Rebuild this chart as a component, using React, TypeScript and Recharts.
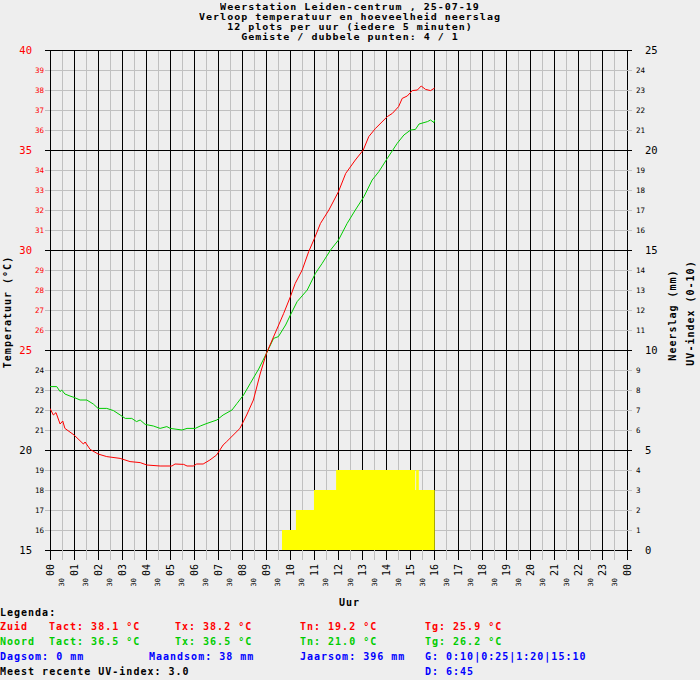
import { Area, CartesianGrid, ComposedChart, Line, XAxis, YAxis } from "recharts";

// Metingen Zuid (rood) en Noord (groen), uur als decimaal getal
const zuidUur = [
  0, 0.14, 0.25, 0.42, 0.53, 0.62, 1.0, 1.39, 1.46, 1.67, 2.0, 2.36, 2.92, 3.33,
  3.75, 4.03, 4.58, 5.07, 5.2, 5.56, 5.7, 5.96, 6.1, 6.37, 6.65, 6.93, 7.2, 7.35,
  7.9, 8.18, 8.46, 8.74, 9.0, 9.44, 9.72, 10.0, 10.2, 10.49, 10.76, 11.0, 11.25,
  11.6, 12.0, 12.3, 12.7, 13.03, 13.26, 13.54, 14.03, 14.24, 14.5, 14.65, 14.86,
  15.07, 15.28, 15.44, 15.62, 15.83, 16.0,
];
const zuidTemp = [
  22.08, 21.75, 21.87, 21.3, 21.45, 21.08, 20.75, 20.3, 20.4, 20.03, 19.8, 19.67,
  19.58, 19.42, 19.37, 19.25, 19.2, 19.2, 19.3, 19.28, 19.2, 19.2, 19.3, 19.3,
  19.5, 19.75, 20.25, 20.42, 21.08, 21.75, 22.5, 23.8, 24.83, 26.05, 26.83, 27.67,
  28.33, 29.0, 29.92, 30.58, 31.33, 32.0, 32.92, 33.83, 34.5, 35.0, 35.67, 36.08,
  36.67, 36.83, 37.17, 37.58, 37.7, 37.97, 38.0, 38.2, 38.03, 37.97, 38.1,
];
const noordUur = [
  0, 0.28, 0.42, 0.49, 0.62, 0.83, 1.0, 1.25, 1.53, 1.8, 2.0, 2.36, 2.64, 2.92,
  3.13, 3.4, 3.6, 3.75, 3.96, 4.3, 4.58, 4.86, 5.0, 5.49, 5.7, 6.04, 6.25, 6.53,
  6.94, 7.2, 7.57, 7.78, 8.05, 8.33, 8.68, 9.03, 9.3, 9.5, 9.8, 10.0, 10.28, 10.7,
  11.04, 11.32, 11.67, 12.0, 12.36, 12.7, 13.06, 13.4, 13.68, 14.03, 14.44, 14.72,
  15.0, 15.2, 15.35, 15.7, 15.83, 15.97, 16.0,
];
const noordTemp = [
  23.17, 23.17, 22.92, 23.0, 22.8, 22.7, 22.63, 22.5, 22.5, 22.3, 22.08, 22.08,
  21.97, 21.75, 21.58, 21.58, 21.42, 21.5, 21.28, 21.2, 21.08, 21.17, 21.08, 21.0,
  21.08, 21.08, 21.2, 21.33, 21.5, 21.75, 22.0, 22.33, 22.75, 23.33, 24.05, 24.9,
  25.58, 25.67, 26.25, 26.75, 27.42, 28.0, 28.83, 29.33, 30.0, 30.5, 31.33, 32.0,
  32.67, 33.5, 33.92, 34.58, 35.33, 35.75, 36.0, 36.03, 36.3, 36.42, 36.5, 36.37,
  36.5,
];
// UV-index, trapsgewijs
const uvUur = [9.65, 10.23, 10.98, 11.9, 15.19, 15.23, 15.34, 16.0];
const uvWaarde = [1, 2, 3, 4, 3, 4, 3, 3];

const uurTicks = [
  0, 0.5, 1, 1.5, 2, 2.5, 3, 3.5, 4, 4.5, 5, 5.5, 6, 6.5, 7, 7.5, 8, 8.5, 9, 9.5,
  10, 10.5, 11, 11.5, 12, 12.5, 13, 13.5, 14, 14.5, 15, 15.5, 16, 16.5, 17, 17.5,
  18, 18.5, 19, 19.5, 20, 20.5, 21, 21.5, 22, 22.5, 23, 23.5, 24,
];
const heleUren = [
  0, 1, 2, 3, 4, 5, 6, 7, 8, 9, 10, 11, 12, 13, 14, 15, 16, 17, 18, 19, 20, 21,
  22, 23, 24,
];
const tempTicks = [
  15, 16, 17, 18, 19, 20, 21, 22, 23, 24, 25, 26, 27, 28, 29, 30, 31, 32, 33, 34,
  35, 36, 37, 38, 39, 40,
];
const tempHoofd = [15, 20, 25, 30, 35, 40];
const rechtsTicks = [
  0, 1, 2, 3, 4, 5, 6, 7, 8, 9, 10, 11, 12, 13, 14, 15, 16, 17, 18, 19, 20, 21,
  22, 23, 24, 25,
];

const zuid = zuidUur.map((h, i) => ({ h, t: zuidTemp[i] }));
const noord = noordUur.map((h, i) => ({ h, t: noordTemp[i] }));
const uv = uvUur.map((h, i) => ({ h, uv: uvWaarde[i] }));

const MONO = '"DejaVu Sans Mono", monospace';
const ROOD = "#ff0000";
const GROEN = "#00cc00";
const BLAUW = "#0000ff";
const GRIJS = "#c0c0c0";
const ACHTERGROND = "#eeeeee";

const XTick = (props: any) => {
  const { x, y, payload } = props;
  const v = payload.value as number;
  const heel = Number.isInteger(v);
  const tekst = heel ? String(v % 24).padStart(2, "0") : "30";
  const ty = heel ? y + 14 : y + 28;
  return (
    <g>
      <line x1={x} x2={x} y1={y} y2={y + 10} stroke={heel ? "#000" : GRIJS} shapeRendering="crispEdges" />
      <text
        x={x}
        y={ty}
        transform={`rotate(-90 ${x} ${ty})`}
        textAnchor="end"
        dominantBaseline="central"
        fontFamily={MONO}
        fontSize={heel ? 10 : 7}
        fill="#000"
      >
        {tekst}
      </text>
    </g>
  );
};

const LinksTick = (props: any) => {
  const { x, y, payload } = props;
  const v = payload.value as number;
  const hoofd = v % 5 === 0;
  return (
    <g>
      <line x1={x - 5} x2={x} y1={y} y2={y} stroke={hoofd ? "#000" : GRIJS} shapeRendering="crispEdges" />
      <text
        x={hoofd ? x - 18 : x - 6}
        y={y}
        textAnchor="end"
        dominantBaseline="central"
        fontFamily={MONO}
        fontSize={hoofd ? 10.5 : 7.5}
        fill={v >= 25 ? ROOD : "#000"}
      >
        {v}
      </text>
    </g>
  );
};

const RechtsTick = (props: any) => {
  const { x, y, payload } = props;
  const v = payload.value as number;
  const hoofd = v % 5 === 0;
  return (
    <g>
      <line x1={x} x2={x + 5} y1={y} y2={y} stroke={hoofd ? "#000" : GRIJS} shapeRendering="crispEdges" />
      <text
        x={hoofd ? x + 18 : x + 9}
        y={y}
        textAnchor="start"
        dominantBaseline="central"
        fontFamily={MONO}
        fontSize={hoofd ? 10.5 : 7.5}
        fill="#000"
      >
        {v}
      </text>
    </g>
  );
};

const tekstStijl = {
  position: "absolute" as const,
  fontFamily: MONO,
  fontWeight: "bold" as const,
  fontSize: 10,
  letterSpacing: "1px",
  lineHeight: "10px",
  height: 10,
  whiteSpace: "pre" as const,
};

function T({ x, y, kleur = "#000", children }: { x: number; y: number; kleur?: string; children: any }) {
  return <div style={{ ...tekstStijl, left: x, top: y - 5, color: kleur }}>{children}</div>;
}

function Staand({ cx, cy, children }: { cx: number; cy: number; children: any }) {
  return (
    <div
      style={{
        ...tekstStijl,
        left: cx - 100,
        top: cy - 5,
        width: 200,
        textAlign: "center",
        transform: "rotate(-90deg)",
      }}
    >
      {children}
    </div>
  );
}

const titel = [
  "Weerstation Leiden-centrum , 25-07-19",
  "Verloop temperatuur en hoeveelheid neerslag",
  "12 plots per uur (iedere 5 minuten)",
  "Gemiste / dubbele punten: 4 / 1",
];

const rij = [612.5, 627, 642, 657, 671.5];

export default function App() {
  return (
    <div style={{ position: "absolute", left: 0, top: 0, width: 700, height: 680, background: ACHTERGROND, overflow: "hidden" }}>
      <ComposedChart width={700} height={680} margin={{ top: 50, right: 0, bottom: 0, left: 0 }}>
        <CartesianGrid
          xAxisId="uur"
          yAxisId="links"
          stroke={GRIJS}
          horizontalValues={tempTicks}
          verticalValues={uurTicks}
          shapeRendering="crispEdges"
        />
        <CartesianGrid
          xAxisId="uur"
          yAxisId="links"
          stroke="#000"
          horizontalValues={tempHoofd}
          verticalValues={heleUren}
          shapeRendering="crispEdges"
        />
        <XAxis
          xAxisId="uur"
          dataKey="h"
          type="number"
          domain={[0, 24]}
          ticks={uurTicks}
          interval={0}
          tickSize={0}
          tickMargin={0}
          axisLine={false}
          tickLine={false}
          height={130}
          tick={<XTick />}
          allowDataOverflow
        />
        <YAxis
          yAxisId="links"
          orientation="left"
          type="number"
          domain={[15, 40]}
          ticks={tempTicks}
          interval={0}
          width={50}
          tickSize={0}
          tickMargin={0}
          axisLine={false}
          tickLine={false}
          tick={<LinksTick />}
          allowDataOverflow
        />
        <YAxis
          yAxisId="rechts"
          orientation="right"
          type="number"
          domain={[0, 25]}
          ticks={rechtsTicks}
          interval={0}
          width={73}
          tickSize={0}
          tickMargin={0}
          axisLine={false}
          tickLine={false}
          tick={<RechtsTick />}
          allowDataOverflow
        />
        <Area
          data={uv}
          xAxisId="uur"
          yAxisId="rechts"
          dataKey="uv"
          type="stepAfter"
          baseValue={0}
          fill="#ffff00"
          fillOpacity={1}
          stroke="none"
          dot={false}
          activeDot={false}
          isAnimationActive={false}
        />
        <Line
          data={noord}
          xAxisId="uur"
          yAxisId="links"
          dataKey="t"
          type="linear"
          stroke={GROEN}
          strokeWidth={1}
          dot={false}
          activeDot={false}
          isAnimationActive={false}
        />
        <Line
          data={zuid}
          xAxisId="uur"
          yAxisId="links"
          dataKey="t"
          type="linear"
          stroke={ROOD}
          strokeWidth={1}
          dot={false}
          activeDot={false}
          isAnimationActive={false}
        />
      </ComposedChart>

      {titel.map((r, i) => (
        <div
          key={i}
          style={{
            ...tekstStijl,
            left: 0,
            width: 700,
            top: 2 + i * 10,
            textAlign: "center",
            transform: "scaleY(0.86)",
          }}
        >
          {r}
        </div>
      ))}

      <Staand cx={7.5} cy={312}>Temperatuur (°C)</Staand>
      <Staand cx={672.5} cy={315}>Neerslag (mm)</Staand>
      <Staand cx={691} cy={313}>UV-index (0-10)</Staand>
      <T x={339} y={602.5}>Uur</T>

      <T x={0} y={rij[0]}>Legenda:</T>

      <T x={0} y={rij[1]} kleur={ROOD}>Zuid</T>
      <T x={49} y={rij[1]} kleur={ROOD}>Tact: 38.1 °C</T>
      <T x={175} y={rij[1]} kleur={ROOD}>Tx: 38.2 °C</T>
      <T x={300} y={rij[1]} kleur={ROOD}>Tn: 19.2 °C</T>
      <T x={425} y={rij[1]} kleur={ROOD}>Tg: 25.9 °C</T>

      <T x={0} y={rij[2]} kleur={GROEN}>Noord</T>
      <T x={49} y={rij[2]} kleur={GROEN}>Tact: 36.5 °C</T>
      <T x={175} y={rij[2]} kleur={GROEN}>Tx: 36.5 °C</T>
      <T x={300} y={rij[2]} kleur={GROEN}>Tn: 21.0 °C</T>
      <T x={425} y={rij[2]} kleur={GROEN}>Tg: 26.2 °C</T>

      <T x={0} y={rij[3]} kleur={BLAUW}>Dagsom: 0 mm</T>
      <T x={149} y={rij[3]} kleur={BLAUW}>Maandsom: 38 mm</T>
      <T x={300} y={rij[3]} kleur={BLAUW}>Jaarsom: 396 mm</T>
      <T x={425} y={rij[3]} kleur={BLAUW}>G: 0:10|0:25|1:20|15:10</T>

      <T x={0} y={rij[4]}>Meest recente UV-index: 3.0</T>
      <T x={425} y={rij[4]} kleur={BLAUW}>D: 6:45</T>
    </div>
  );
}
